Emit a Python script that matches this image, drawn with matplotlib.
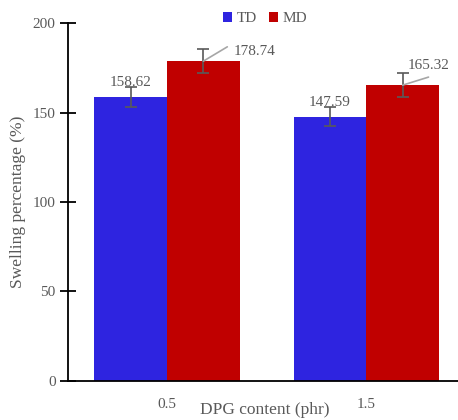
import numpy as np
import matplotlib.pyplot as plt

plt.rcParams['font.family'] = ['Liberation Serif', 'DejaVu Serif']

groups = ["0.5", "1.5"]
td_vals = [158.62, 147.59]
md_vals = [178.74, 165.32]
td_err = [5.6, 5.3]
md_err = [6.7, 6.7]

blue = "#2E24E0"
red = "#C00000"
grey = "#595959"

fig = plt.figure(figsize=(4.58, 4.2), dpi=100)
ax = fig.add_axes([0.1485, 0.093, 0.86, 0.852])

x = np.arange(len(groups))
w = 0.365
ax.bar(x - w / 2, td_vals, w, color=blue, label="TD")
ax.bar(x + w / 2, md_vals, w, color=red, label="MD")
ax.errorbar(x - w / 2, td_vals, yerr=td_err, fmt="none", ecolor=grey, capsize=4, elinewidth=1.2, capthick=1.2)
ax.errorbar(x + w / 2, md_vals, yerr=md_err, fmt="none", ecolor=grey, capsize=4, elinewidth=1.2, capthick=1.2)

# value labels for TD, directly above the error bar
for xi, v, e in zip(x - w / 2, td_vals, td_err):
    ax.text(xi, v + e - 1, f"{v:.2f}", ha="center", va="bottom", fontsize=11, color=grey)

# MD labels sit off to the right with a leader line
line_end = [(0.12, 8.0), (0.13, 4.5)]
txt_off = [(0.15, 5.5), (0.025, 11.0)]
for xi, v, le, to in zip(x + w / 2, md_vals, line_end, txt_off):
    ax.annotate("", xy=(xi, v), xytext=(xi + le[0], v + le[1]),
                arrowprops=dict(arrowstyle="-", color="#A6A6A6", lw=1.2, shrinkA=0, shrinkB=0))
    ax.text(xi + to[0], v + to[1], f"{v:.2f}", ha="left", va="center", fontsize=11, color=grey)

ax.set_xlim(-0.497, 1.48)
ax.set_ylim(0, 200)
ax.set_yticks([0, 50, 100, 150, 200])
ax.set_xticks(x)
ax.set_xticklabels(groups)
ax.tick_params(axis="y", direction="inout", length=11, width=1.3, colors="black", labelcolor=grey, labelsize=11)
ax.tick_params(axis="x", length=0, labelcolor=grey, labelsize=11, pad=12)
for s in ["top", "right"]:
    ax.spines[s].set_visible(False)
for s in ["left", "bottom"]:
    ax.spines[s].set_linewidth(1.3)
ax.set_ylabel("Swelling percentage (%)", fontsize=12.5, color=grey, labelpad=5)
ax.set_xlabel("DPG content (phr)", fontsize=12.5, color=grey, labelpad=-6)

ax.legend(loc="upper center", bbox_to_anchor=(0.5, 1.07), ncol=2, frameon=False, fontsize=11,
          handlelength=0.6, handleheight=0.6, handletextpad=0.3, columnspacing=0.8, labelcolor=grey)

fig.savefig("out.png", dpi=100)
